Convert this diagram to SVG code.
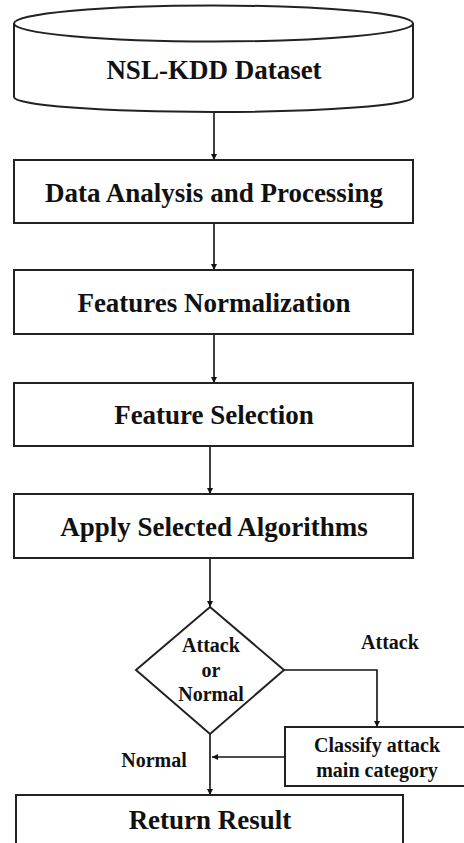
<svg xmlns="http://www.w3.org/2000/svg" width="464" height="843" viewBox="0 0 464 843">
<style>
.n{fill:#fff;stroke:#222;stroke-width:2}
.t{font-family:'Liberation Serif','Times New Roman','DejaVu Serif',serif;font-weight:700;fill:#111;text-anchor:middle;dominant-baseline:central}
.big{font-size:27px}
.sm{font-size:20px}
.c{fill:none;stroke:#111;stroke-width:1.6}
</style>
<defs>
<marker id="ah" viewBox="0 0 10 10" refX="10" refY="5" markerWidth="4" markerHeight="4" orient="auto" markerUnits="strokeWidth">
<path d="M0,0 L10,5 L0,10 z" fill="#111"/>
</marker>
</defs>
<rect width="464" height="843" fill="#fff"/>
<g id="connectors">
<path class="c" d="M214,112 V160" marker-end="url(#ah)"/>
<path class="c" d="M214,223 V270" marker-end="url(#ah)"/>
<path class="c" d="M214,334 V383" marker-end="url(#ah)"/>
<path class="c" d="M210,446 V494" marker-end="url(#ah)"/>
<path class="c" d="M210,558 V607" marker-end="url(#ah)"/>
<path class="c" d="M284,670 H377 V727" marker-end="url(#ah)"/>
<path class="c" d="M285,757 H212" marker-end="url(#ah)"/>
<path class="c" d="M210,734 V795" marker-end="url(#ah)"/>
<text class="t sm" x="390" y="642" font-family="Liberation Serif, serif">Attack</text>
<text class="t sm" x="154" y="760" font-family="Liberation Serif, serif">Normal</text>
</g>
<g id="dataset">
<path class="n" d="M14,23 V97 A199.5,15 0 0 0 413,97 V23"/>
<ellipse class="n" cx="213.5" cy="23.5" rx="199.5" ry="18"/>
<text class="t big" x="214" y="70" font-family="Liberation Serif, serif">NSL-KDD Dataset</text>
</g>
<g id="analysis">
<rect class="n" x="14" y="160" width="399" height="63"/>
<text class="t big" x="214" y="193" font-family="Liberation Serif, serif">Data Analysis and Processing</text>
</g>
<g id="normalization">
<rect class="n" x="14" y="270" width="399" height="64"/>
<text class="t big" x="214" y="303" font-family="Liberation Serif, serif">Features Normalization</text>
</g>
<g id="selection">
<rect class="n" x="14" y="383" width="399" height="63"/>
<text class="t big" x="214" y="415" font-family="Liberation Serif, serif">Feature Selection</text>
</g>
<g id="algorithms">
<rect class="n" x="14" y="494" width="399" height="64"/>
<text class="t big" x="214" y="527" font-family="Liberation Serif, serif">Apply Selected Algorithms</text>
</g>
<g id="decision">
<polygon class="n" points="210,607 284,670 210,734 136,670"/>
<text class="t sm" x="211" y="645" font-family="Liberation Serif, serif">Attack</text>
<text class="t sm" x="211" y="670" font-family="Liberation Serif, serif">or</text>
<text class="t sm" x="211" y="694" font-family="Liberation Serif, serif">Normal</text>
</g>
<g id="classify">
<rect class="n" x="285" y="727" width="200" height="59"/>
<text class="t sm" x="377" y="745" font-family="Liberation Serif, serif">Classify attack</text>
<text class="t sm" x="377" y="770" font-family="Liberation Serif, serif">main category</text>
</g>
<g id="result">
<rect class="n" x="16" y="795" width="387" height="60"/>
<text class="t big" x="210" y="820" font-family="Liberation Serif, serif">Return Result</text>
</g>
</svg>
